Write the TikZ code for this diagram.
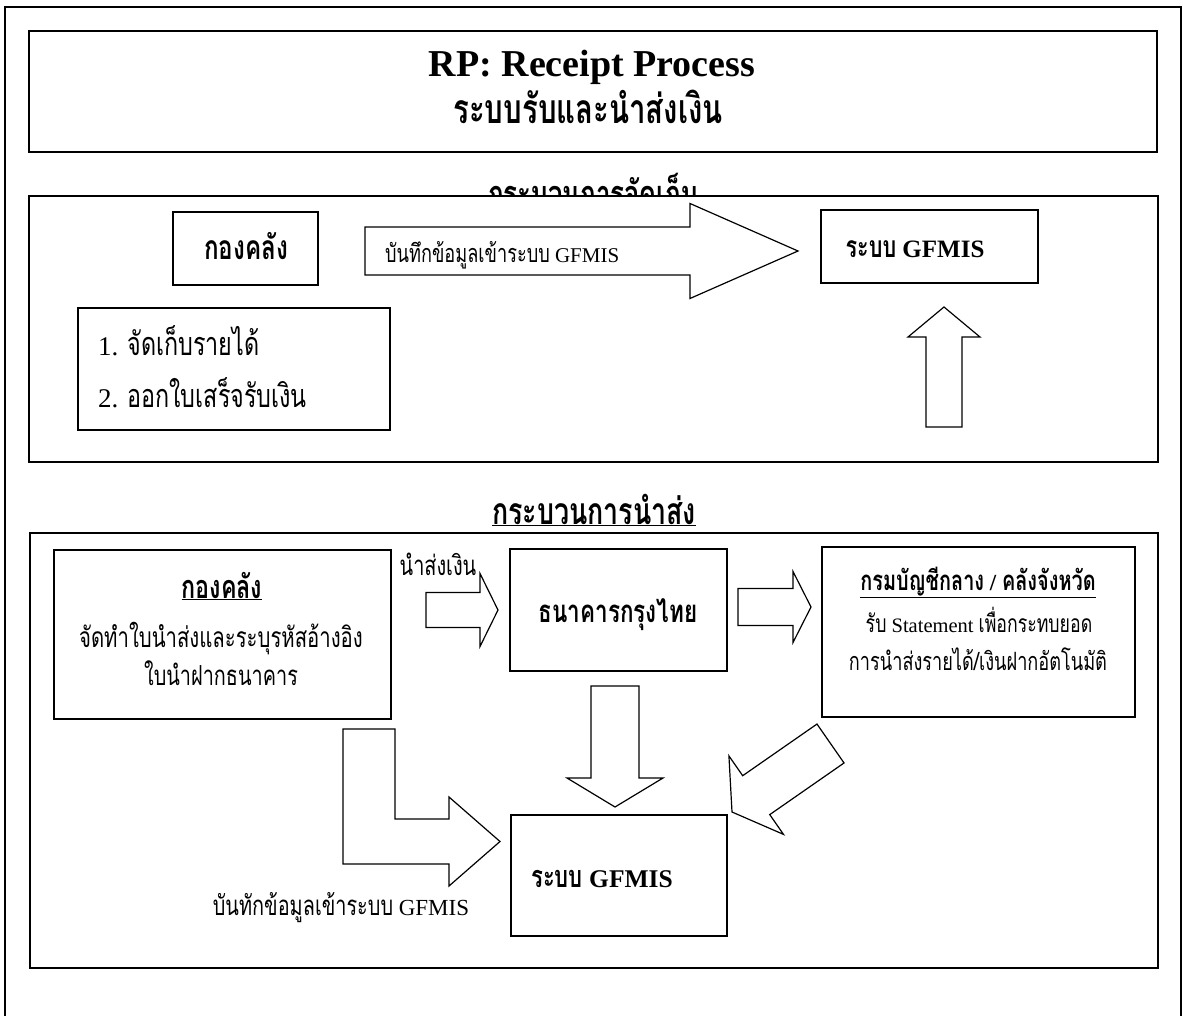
\documentclass[tikz,border=0pt]{standalone}
\usepackage{fontspec}
\setmainfont{Liberation Serif}
\newfontfamily\thai[Script=Thai,Scale=1.2,FakeStretch=0.72]{Loma}
\usepackage{tikz}
\usetikzlibrary{calc}

\begin{document}
\begin{tikzpicture}[x=1pt,y=-1pt]

		\useasboundingbox (0,0) rectangle (1183,1016);
		\tikzset{boite/.style={draw, line width=1.5pt, fill=white, inner sep=0pt}}
		\tikzset{mot/.style={inner sep=0pt, anchor=base}}
		\tikzset{bloc/.style n args={3}{draw, line width=1.2pt, fill=white, to path={
			($(\tikztostart)!#1!90:(\tikztotarget)$)
			-- ($(\tikztotarget)!#3!(\tikztostart)!#1!90:(\tikztotarget)$)
			-- ($(\tikztotarget)!#3!(\tikztostart)!#2!90:(\tikztotarget)$)
			-- (\tikztotarget)
			-- ($(\tikztotarget)!#3!(\tikztostart)!#2!-90:(\tikztotarget)$)
			-- ($(\tikztotarget)!#3!(\tikztostart)!#1!-90:(\tikztotarget)$)
			-- ($(\tikztostart)!#1!-90:(\tikztotarget)$) -- cycle}}}

		\draw[line width=1.5pt] (5,1016) -- (5,7) -- (1181,7) -- (1181,1016);

		\node[boite, minimum width=1128, minimum height=121] (T) at (593,91.5) {};
		\node[mot, font=\bfseries\fontsize{38}{40}\selectfont] (rp) at (592,77) {RP: Receipt Process};
		\node[mot, font=\bfseries\fontsize{34}{38}\selectfont] (sub) at (588,124) {\thai ระบบรับและนำส่งเงิน};

		\node[mot, font=\bfseries\fontsize{30}{34}\selectfont] (lab1) at (593,207) {\underline{\thai กระบวนการจัดเก็บ}};
		\node[boite, minimum width=1129, minimum height=266] (S1) at (593.5,329) {};

		\node[boite, minimum width=145, minimum height=73] (K1) at (245.5,248.5) {};
		\node[boite, minimum width=312, minimum height=122] (L) at (234,369) {};
		\node[boite, minimum width=217, minimum height=73] (G1) at (929.5,246.5) {};

		\draw (K1) node[mot, font=\bfseries\fontsize{28}{32}\selectfont] at (246,260) {\thai กองคลัง};
		\draw (L) node[mot, anchor=base west, font=\fontsize{27}{30}\selectfont] at (98,355) {1. {\thai จัดเก็บรายได้}};
		\draw (L) node[mot, anchor=base west, font=\fontsize{27}{30}\selectfont] at (98,407) {2. {\thai ออกใบเสร็จรับเงิน}};
		\draw (G1) node[mot, font=\bfseries\fontsize{25}{28}\selectfont] at (915,258) {{\thai ระบบ} GFMIS};

		\coordinate (a1) at (365,251);
		\coordinate (a2) at (798,251);
		\coordinate (b1) at (944,427);
		\coordinate (b2) at (944,307);
		\draw[bloc={24pt}{47.5pt}{108pt}] (a1) to (a2);
		\draw[bloc={18pt}{36pt}{30pt}] (b1) to (b2);
		\node[mot, anchor=base west, font=\fontsize{21}{24}\selectfont] (t1) at (385,263) {{\thai บันทึกข้อมูลเข้าระบบ} GFMIS};

		\node[mot, font=\bfseries\fontsize{31}{34}\selectfont] (lab2) at (594,524) {\underline{\thai กระบวนการนำส่ง}};
		\node[boite, minimum width=1128, minimum height=435] (S2) at (594,750.5) {};

		\node[boite, minimum width=337, minimum height=169] (K2) at (222.5,634.5) {};
		\node[boite, minimum width=217, minimum height=122] (B) at (618.5,610) {};
		\node[boite, minimum width=313, minimum height=170] (C) at (978.5,632) {};
		\node[boite, minimum width=216, minimum height=121] (G2) at (619,875.5) {};

		\draw (K2) node[mot, font=\bfseries\fontsize{27}{30}\selectfont] at (222,598) {\underline{\thai กองคลัง}};
		\draw (K2) node[mot, font=\fontsize{23.5}{26}\selectfont] at (221,647) {\thai จัดทำใบนำส่งและระบุรหัสอ้างอิง};
		\draw (K2) node[mot, font=\fontsize{23}{26}\selectfont] at (221,685) {\thai ใบนำฝากธนาคาร};
		\draw (B) node[mot, font=\bfseries\fontsize{26}{30}\selectfont] at (618,622) {\thai ธนาคารกรุงไทย};
		\draw (C) node[mot, font=\bfseries\fontsize{23}{26}\selectfont] at (978,590) {\underline{{\thai กรมบัญชีกลาง} / {\thai คลังจังหวัด}}};
		\draw (C) node[mot, font=\fontsize{20.5}{23}\selectfont] at (979,632) {{\thai รับ} Statement {\thai เพื่อกระทบยอด}};
		\draw (C) node[mot, font=\fontsize{21}{23}\selectfont] at (978,670) {\thai การนำส่งรายได้/เงินฝากอัตโนมัติ};
		\draw (G2) node[mot, font=\bfseries\fontsize{25.5}{28}\selectfont] at (602,887) {{\thai ระบบ} GFMIS};

		\coordinate (c1) at (426,610);
		\coordinate (c2) at (498,610);
		\coordinate (d1) at (738,607);
		\coordinate (d2) at (811,607);
		\coordinate (e1) at (615,686);
		\coordinate (e2) at (615,807);
		\coordinate (f1) at (830.5,743.5);
		\coordinate (f2) at (732,812);
		\draw[bloc={17.5pt}{36.5pt}{18pt}] (c1) to (c2);
		\draw[bloc={18.5pt}{35.5pt}{18pt}] (d1) to (d2);
		\draw[bloc={24pt}{48pt}{29pt}] (e1) to (e2);
		\draw[bloc={23.7pt}{47.8pt}{29.5pt}] (f1) to (f2);
		\draw[line width=1.2pt, fill=white] (343,729) -- (395,729) -- (395,819) -- (449,819) -- (449,797) -- (500,841.5) -- (449,886) -- (449,864) -- (343,864) -- cycle;

		\node[mot, font=\fontsize{23}{26}\selectfont] (t2) at (438,575) {\thai นำส่งเงิน};
		\node[mot, font=\fontsize{23}{26}\selectfont] (t3) at (341,915) {{\thai บันทักข้อมูลเข้าระบบ} GFMIS};

		\end{tikzpicture}
\end{document}
